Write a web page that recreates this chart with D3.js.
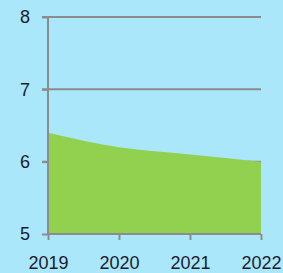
<!DOCTYPE html>
<html>
<head>
<meta charset="utf-8">
<script src="https://cdn.jsdelivr.net/npm/d3@7"></script>
<style>
  body { margin: 0; background: #abe7fb; }
  svg { display: block; }
</style>
</head>
<body>
<div id="chart-area"></div>
<script>
const years = ['2019', '2020', '2021', '2022']
const values = [6.4, 6.2, 6.1, 6.0]
const yTicks = [5, 6, 7, 8]

const canvas = { width: 283, height: 273 }
const margin = { left: 48, right: 22, top: 17, bottom: 39 }
const group = {
    width: canvas.width - margin.left - margin.right,
    height: canvas.height - margin.top - margin.bottom
}

let svg = d3.select('#chart-area')
    .append('svg')
    .attr('width', canvas.width)
    .attr('height', canvas.height)

let g = svg.append('g')
    .attr('transform', `translate(${margin.left},${margin.top})`)

let scaleX = d3.scalePoint()
    .domain(years)
    .range([0, group.width])

let scaleY = d3.scaleLinear()
    .domain([5, 8])
    .range([group.height, 0])

// gridlines (behind the area)
g.selectAll('.grid')
    .data(yTicks.filter(t => t > 5))
    .enter()
    .append('line')
    .attr('x1', -6)
    .attr('x2', group.width)
    .attr('y1', d => scaleY(d))
    .attr('y2', d => scaleY(d))
    .attr('stroke', '#8c8c8c')
    .attr('stroke-width', 2)

// area
let area = d3.area()
    .x((d, i) => scaleX(years[i]))
    .y0(scaleY(5))
    .y1(d => scaleY(d))
    .curve(d3.curveMonotoneX)

g.append('path')
    .datum(values)
    .attr('d', area)
    .attr('fill', '#92d050')

// y-axis
let yAxis = d3.axisLeft(scaleY)
    .tickValues(yTicks)
    .tickSize(6)
    .tickPadding(12)
    .tickFormat(d3.format('d'))
g.append('g')
    .call(yAxis)
    .call(a => a.select('.domain').remove())

g.append('line')
    .attr('x1', 0).attr('x2', 0)
    .attr('y1', 0).attr('y2', group.height)
    .attr('stroke', '#8c8c8c')
    .attr('stroke-width', 2)

// x-axis
let xAxis = d3.axisBottom(scaleX)
    .tickSize(6)
    .tickPadding(16)
g.append('g')
    .attr('transform', `translate(0, ${group.height})`)
    .call(xAxis)
    .call(a => a.select('.domain')
        .attr('d', `M0,0H${group.width}`))

g.selectAll('.tick line, .domain')
    .attr('stroke', '#8c8c8c')
    .attr('stroke-width', 2)

g.selectAll('.tick text')
    .attr('fill', '#1b1b2f')
    .style('font-family', 'Liberation Sans, Arial, sans-serif')
    .style('font-size', '18px')
</script>
</body>
</html>
